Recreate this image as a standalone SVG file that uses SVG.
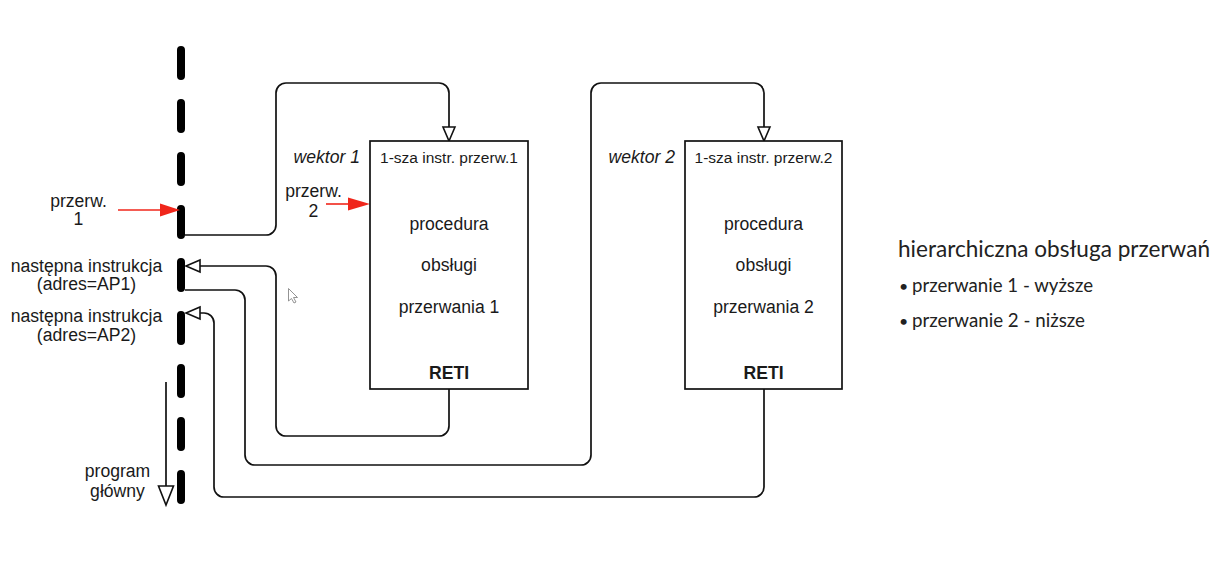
<svg xmlns="http://www.w3.org/2000/svg" width="1228" height="575" viewBox="0 0 1228 575">
<defs>
<style>
.t{font-family:"Liberation Sans",Arial,sans-serif;font-size:17.6px;fill:#1a1a1a}
.c{text-anchor:middle}
.it{font-style:italic;text-anchor:end}
.b{font-weight:bold}
.sm{font-size:15.5px}
.conn{fill:none;stroke:#111;stroke-width:1.7;stroke-linejoin:round}
.box{fill:#fff;stroke:#111;stroke-width:1.7}
.red{stroke:#f0261b;stroke-width:1.6;fill:none}
.rt{font-family:Lato,"Open Sans",sans-serif;fill:#222}
</style>
<marker id="open" markerUnits="userSpaceOnUse" markerWidth="18" markerHeight="16" refX="15" refY="7" orient="auto" overflow="visible">
<path d="M1,1 L15,7 L1,13 Z" fill="#fff" stroke="#111" stroke-width="1.6" stroke-linejoin="miter"/>
</marker>
</defs>
<rect width="1228" height="575" fill="#fff"/>

<g id="program-line">
<line x1="181" y1="50" x2="181" y2="502" stroke="#000" stroke-width="8" stroke-linecap="round" stroke-dasharray="26 27"/>
</g>

<g id="connectors">
<path class="conn" d="M185,235 H266 A10,10 0 0 0 276,225 V93 A10,10 0 0 1 286,83 H439 A10,10 0 0 1 449,93 V141" marker-end="url(#open)"/>
<path class="conn" d="M449,389 V426 A10,10 0 0 1 439,436 H286 A10,10 0 0 1 276,426 V276 A10,10 0 0 0 266,266 H186" marker-end="url(#open)"/>
<path class="conn" d="M185,290 H235 A10,10 0 0 1 245,300 V455 A10,10 0 0 0 255,465 H581 A10,10 0 0 0 591,455 V93 A10,10 0 0 1 601,83 H754 A10,10 0 0 1 764,93 V141" marker-end="url(#open)"/>
<path class="conn" d="M764,389 V487 A10,10 0 0 1 754,497 H224 A10,10 0 0 1 214,487 V323 A10,10 0 0 0 204,313 H186" marker-end="url(#open)"/>
<line class="conn" x1="166" y1="382" x2="166" y2="486"/>
<polygon points="158.5,486 173.5,486 166,505" fill="#fff" stroke="#111" stroke-width="1.6"/>
<line class="red" x1="118" y1="210" x2="162" y2="210"/>
<polygon points="160,203.5 180,210 160,216.5" fill="#f0261b"/>
<line class="red" x1="326" y1="204" x2="350" y2="204"/>
<polygon points="348,197.5 370,204 348,210.5" fill="#f0261b"/>
</g>

<g id="box1">
<rect class="box" x="370" y="141" width="158" height="248"/>
<text class="t sm c" x="449" y="162.5">1-sza instr. przerw.1</text>
<text class="t c" x="449" y="230">procedura</text>
<text class="t c" x="449" y="271">obsługi</text>
<text class="t c" x="449" y="313">przerwania 1</text>
<text class="t c b" x="449" y="379">RETI</text>
</g>

<g id="box2">
<rect class="box" x="685" y="141" width="157" height="248"/>
<text class="t sm c" x="763.5" y="162.5">1-sza instr. przerw.2</text>
<text class="t c" x="763.5" y="230">procedura</text>
<text class="t c" x="763.5" y="271">obsługi</text>
<text class="t c" x="763.5" y="313">przerwania 2</text>
<text class="t c b" x="763.5" y="379">RETI</text>
</g>

<g id="labels">
<text class="t it" x="360" y="163">wektor 1</text>
<text class="t it" x="675" y="163">wektor 2</text>
<text class="t c" x="78.5" y="207">przerw.</text>
<text class="t c" x="78.5" y="225">1</text>
<text class="t c" x="313.5" y="197">przerw.</text>
<text class="t c" x="313.5" y="217">2</text>
<text class="t c" x="86.5" y="272">następna instrukcja</text>
<text class="t c" x="86.5" y="290">(adres=AP1)</text>
<text class="t c" x="86.5" y="322">następna instrukcja</text>
<text class="t c" x="86.5" y="341">(adres=AP2)</text>
<text class="t c" x="117.5" y="477">program</text>
<text class="t c" x="117.5" y="497">główny</text>
</g>

<g id="cursor">
<path d="M288.5,288.5 L288.5,301 L291.5,298.5 L294,303 L296,302 L293.5,297.5 L297.5,297.5 Z" fill="#fff" stroke="#888" stroke-width="0.9" stroke-linejoin="round"/>
</g>

<g id="legend">
<text class="rt" x="898" y="257" font-size="23" textLength="312" lengthAdjust="spacingAndGlyphs">hierarchiczna obsługa przerwań</text>
<text class="rt" x="899" y="292" font-size="16">•</text>
<text class="rt" x="912" y="292" font-size="19.5" textLength="181" lengthAdjust="spacingAndGlyphs">przerwanie 1 - wyższe</text>
<text class="rt" x="899" y="327" font-size="16">•</text>
<text class="rt" x="912" y="327" font-size="19.5" textLength="173" lengthAdjust="spacingAndGlyphs">przerwanie 2 - niższe</text>
</g>
</svg>
